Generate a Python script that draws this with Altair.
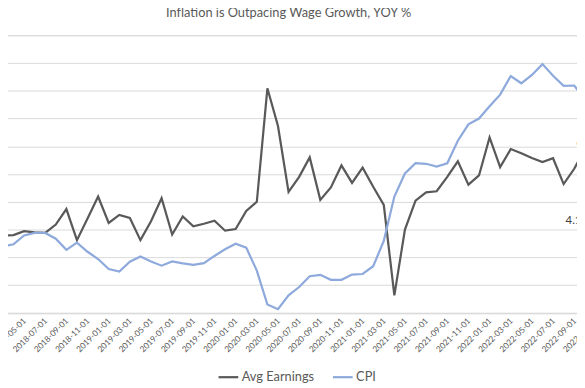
import altair as alt
import pandas as pd

months = [
    "2018-01-01", "2018-02-01", "2018-03-01", "2018-04-01", "2018-05-01", "2018-06-01",
    "2018-07-01", "2018-08-01", "2018-09-01", "2018-10-01", "2018-11-01", "2018-12-01",
    "2019-01-01", "2019-02-01", "2019-03-01", "2019-04-01", "2019-05-01", "2019-06-01",
    "2019-07-01", "2019-08-01", "2019-09-01", "2019-10-01", "2019-11-01", "2019-12-01",
    "2020-01-01", "2020-02-01", "2020-03-01", "2020-04-01", "2020-05-01", "2020-06-01",
    "2020-07-01", "2020-08-01", "2020-09-01", "2020-10-01", "2020-11-01", "2020-12-01",
    "2021-01-01", "2021-02-01", "2021-03-01", "2021-04-01", "2021-05-01", "2021-06-01",
    "2021-07-01", "2021-08-01", "2021-09-01", "2021-10-01", "2021-11-01", "2021-12-01",
    "2022-01-01", "2022-02-01", "2022-03-01", "2022-04-01", "2022-05-01", "2022-06-01",
    "2022-07-01", "2022-08-01", "2022-09-01", "2022-10-01", "2022-11-01",
]

avg_earnings = [
    2.80, 2.75, 2.79, 2.80, 2.94, 2.90, 2.88, 3.18, 3.74, 2.62, 3.40, 4.19,
    3.24, 3.53, 3.42, 2.62, 3.30, 4.13, 2.82, 3.47, 3.12, 3.21, 3.32, 2.96,
    3.02, 3.67, 4.00, 8.09, 6.73, 4.36, 4.90, 5.60, 4.07, 4.52, 5.31, 4.68,
    5.23, 4.54, 3.89, 0.63, 3.00, 4.04, 4.34, 4.38, 4.90, 5.46, 4.62, 4.95,
    6.32, 5.25, 5.90, 5.75, 5.58, 5.43, 5.57, 4.64, 5.19, 5.90,
]

cpi = [
    2.10, 2.25, 2.39, 2.47, 2.79, 2.88, 2.88, 2.67, 2.27, 2.53, 2.20, 1.94,
    1.58, 1.49, 1.84, 2.03, 1.85, 1.70, 1.85, 1.78, 1.73, 1.79, 2.05, 2.29,
    2.49, 2.35, 1.52, 0.30, 0.13, 0.63, 0.93, 1.32, 1.37, 1.19, 1.19, 1.38,
    1.40, 1.68, 2.59, 4.19, 5.02, 5.39, 5.37, 5.27, 5.39, 6.20, 6.79, 7.00,
    7.44, 7.86, 8.53, 8.27, 8.57, 8.96, 8.54, 8.18, 8.19, 7.70,
]

series_names = ["Avg Earnings", "CPI"]
series_colors = ["#595959", "#8EA9DB"]

label_dates = ["2022-08-01", "2022-09-01"]
label_values = [3.29, 6.13]
label_texts = ["4.1", "6.0"]

y_ticks = [0, 1, 2, 3, 4, 5, 6, 7, 8, 9, 10]
x_label_months = months[::2]

rows = []
for d, v in zip(months, avg_earnings):
    rows.append({"date": d, "series": series_names[0], "value": v})
for d, v in zip(months, cpi):
    rows.append({"date": d, "series": series_names[1], "value": v})
df = pd.DataFrame(rows)

labels_df = pd.DataFrame({"date": label_dates, "value": label_values, "label": label_texts})

FONT = "Lato"
GRAY = "#595959"

x_enc = alt.X(
    "date:O",
    scale=alt.Scale(type="point", domain=months, padding=0.5),
    axis=alt.Axis(
        values=x_label_months,
        labelAngle=315,
        labelAlign="right",
        labelBaseline="middle",
        labelPadding=6,
        labelFontSize=8.4,
        labelColor=GRAY,
        labelFont=FONT,
        ticks=False,
        domainColor="#D9D9D9",
        domainWidth=1,
        grid=False,
        labelOverlap=False,
        title=None,
    ),
)

y_enc = alt.Y(
    "value:Q",
    scale=alt.Scale(domain=[0, 10], nice=False, zero=True),
    axis=alt.Axis(
        values=y_ticks,
        grid=True,
        gridColor="#D9D9D9",
        gridWidth=1,
        ticks=False,
        domain=False,
        labelFontSize=12,
        labelColor=GRAY,
        labelFont=FONT,
        labelPadding=8,
        title=None,
    ),
)

lines = alt.Chart(df).mark_line(strokeWidth=2.25, clip=True).encode(
    x=x_enc,
    y=y_enc,
    color=alt.Color(
        "series:N",
        scale=alt.Scale(domain=series_names, range=series_colors),
        legend=alt.Legend(
            orient="none",
            legendX=244,
            legendY=335,
            direction="horizontal",
            symbolType="stroke",
            symbolSize=400,
            symbolStrokeWidth=2.25,
            labelFontSize=13,
            labelFont=FONT,
            labelColor=GRAY,
            labelOffset=2,
            columnPadding=14,
            title=None,
        ),
    ),
)

texts = alt.Chart(labels_df).mark_text(
    align="left", baseline="middle", dx=2, fontSize=11.5, font=FONT, color="#404040"
).encode(
    x=x_enc,
    y=y_enc,
    text="label:N",
)

chart = alt.layer(lines, texts).properties(
    width=633,
    height=281.5,
    padding={"left": -32, "top": 25, "right": -24, "bottom": 69},
    autosize=alt.AutoSizeParams(type="none"),
    title=alt.TitleParams(
        "Inflation is Outpacing Wage Growth, YOY %",
        font=FONT,
        fontSize=13,
        fontWeight="normal",
        color=GRAY,
        anchor="middle",
        offset=10,
    ),
).configure_view(strokeWidth=0).configure(background="white")

chart.save("out.html", embed_options={"renderer": "svg", "actions": False})
